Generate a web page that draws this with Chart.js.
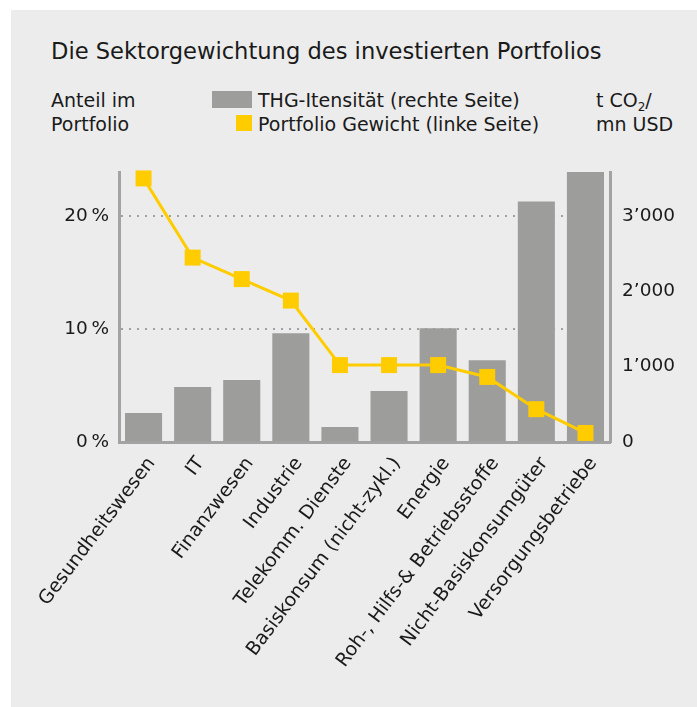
<!DOCTYPE html>
<html>
<head>
<meta charset="utf-8">
<script src="https://cdn.jsdelivr.net/npm/chart.js@4.4.1/dist/chart.umd.min.js"></script>
<style>
  body { margin: 0; background: #ffffff; }
  #wrap { position: relative; width: 697px; height: 707px; overflow: hidden; font-family: 'DejaVu Sans', sans-serif; color: #1a1a1a; }
  #panel { position: absolute; left: 11px; top: 10px; right: 0; bottom: 0; background: #ececec; }
  .txt { position: absolute; white-space: nowrap; line-height: 1; font-size: 19px; }
  .box { position: absolute; }
  canvas { position: absolute; left: 0; top: 0; }
  sub { font-size: 12px; vertical-align: -4px; line-height: 0; }
</style>
</head>
<body>
<div id="wrap">
  <div id="panel"></div>
  <div class="txt" style="left:51px; top:40px; font-size:22.6px;">Die Sektorgewichtung des investierten Portfolios</div>
  <div class="txt" style="left:51px; top:91px;">Anteil im</div>
  <div class="txt" style="left:51px; top:115px;">Portfolio</div>
  <div class="box" style="left:212px; top:91px; width:40px; height:17px; background:#9d9d9c;"></div>
  <div class="txt" style="left:258px; top:91px;">THG-Itensität (rechte Seite)</div>
  <div class="box" style="left:236px; top:115px; width:16px; height:16px; background:#ffcc00;"></div>
  <div class="txt" style="left:258px; top:115px;">Portfolio Gewicht (linke Seite)</div>
  <div class="txt" style="left:596px; top:91px;">t CO<sub>2</sub>/</div>
  <div class="txt" style="left:596px; top:115px;">mn USD</div>
  <canvas id="chart" width="697" height="707"></canvas>
</div>
<script>
const sectors = ['Gesundheitswesen', 'IT', 'Finanzwesen', 'Industrie', 'Telekomm. Dienste',
  'Basiskonsum (nicht-zykl.)', 'Energie', 'Roh-, Hilfs-& Betriebsstoffe', 'Nicht-Basiskonsumgüter', 'Versorgungsbetriebe'];
// Portfolio Gewicht in % (linke Seite)
const weight = [23.3, 16.3, 14.4, 12.5, 6.8, 6.8, 6.8, 5.75, 2.9, 0.8];
// THG-Intensität in t CO2 / mn USD (rechte Seite)
const intensity = [384, 728, 821, 1443, 199, 675, 1509, 1085, 3190, 3580];
const leftTicks = [0, 10, 20];
const rightTicks = [0, 1000, 2000, 3000];
const rightMax = 3580;
const leftMax = rightMax / 150;

Chart.defaults.font.family = "'DejaVu Sans', sans-serif";
Chart.defaults.color = '#1a1a1a';

const axisGrey = '#a3a3a3';

new Chart(document.getElementById('chart'), {
    data: {
        labels: sectors,
        datasets: [
            {
                type: 'line',
                label: 'Portfolio Gewicht (linke Seite)',
                data: weight,
                yAxisID: 'y',
                order: 0,
                borderColor: '#ffcc00',
                borderWidth: 3,
                pointStyle: 'rect',
                pointRadius: 11.3,
                pointHoverRadius: 11.3,
                pointBorderWidth: 0,
                pointBackgroundColor: '#ffcc00',
                tension: 0,
                clip: false
            },
            {
                type: 'bar',
                label: 'THG-Itensität (rechte Seite)',
                data: intensity,
                yAxisID: 'y2',
                order: 1,
                backgroundColor: '#9d9d9c',
                barPercentage: 0.755,
                categoryPercentage: 1.0
            }
        ]
    },
    options: {
        responsive: false,
        animation: false,
        layout: { padding: { top: 172, left: 0, right: 0, bottom: 0 } },
        plugins: {
            legend: { display: false },
            tooltip: { enabled: false }
        },
        scales: {
            x: {
                grid: { display: false },
                border: { display: true, color: axisGrey, width: 3 },
                ticks: {
                    autoSkip: false,
                    minRotation: 53,
                    maxRotation: 53,
                    padding: 3,
                    labelOffset: 8,
                    font: { size: 19 }
                },
                afterFit: s => { s.height = 265; }
            },
            y: {
                position: 'left',
                min: 0,
                max: leftMax,
                afterBuildTicks: s => { s.ticks = leftTicks.map(v => ({ value: v })); },
                grid: {
                    drawTicks: false,
                    lineWidth: 2,
                    color: c => (c.tick && c.tick.value === 0) ? 'rgba(0,0,0,0)' : '#a0a0a0'
                },
                border: { display: true, color: axisGrey, width: 3, dash: [2, 6] },
                ticks: {
                    padding: 10,
                    font: { size: 18.5 },
                    callback: v => v + '\u2009%'
                },
                afterFit: s => { s.width = 119; }
            },
            y2: {
                position: 'right',
                min: 0,
                max: rightMax,
                afterBuildTicks: s => { s.ticks = rightTicks.map(v => ({ value: v })); },
                grid: { drawOnChartArea: false, drawTicks: false },
                border: { display: true, color: axisGrey, width: 3 },
                ticks: {
                    padding: 12,
                    font: { size: 18.5 },
                    callback: v => String(v).replace(/\B(?=(\d{3})+(?!\d))/g, '\u2019')
                },
                afterFit: s => { s.width = 87; }
            }
        }
    }
});
</script>
</body>
</html>
